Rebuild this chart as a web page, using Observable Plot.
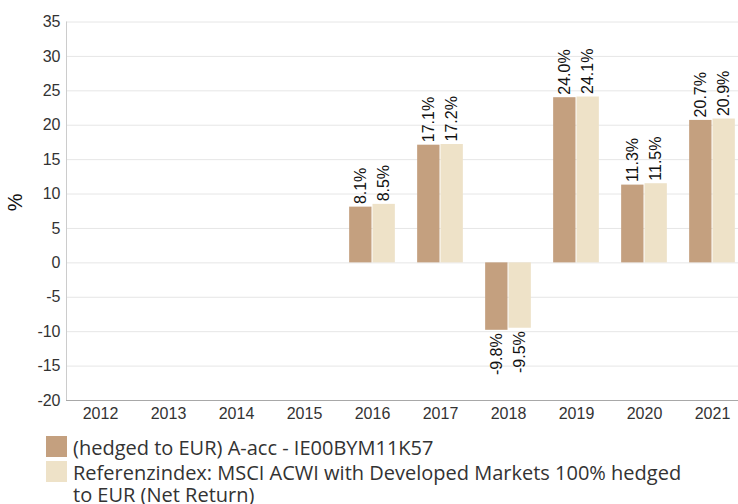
<!DOCTYPE html>
<html>
<head>
<meta charset="utf-8">
<script src="https://cdn.jsdelivr.net/npm/d3@7"></script>
<script src="https://cdn.jsdelivr.net/npm/@observablehq/plot@0.6"></script>
<style>
  html, body { margin: 0; padding: 0; background: #fff; }
  #chart { width: 738px; height: 422px; }
  #legend { margin: 15px 0 0 46px; font-family: "Open Sans", "Noto Sans", sans-serif; font-size: 20px; color: #333; line-height: 22px; }
  .item { display: flex; align-items: flex-start; margin-bottom: 3px; }
  .swatch { width: 21px; height: 21px; flex: none; margin-top: -1px; margin-right: 6px; }
  .label { width: 618px; }
</style>
</head>
<body>
<div id="chart"></div>
<div id="legend"></div>
<script>
const years = [2012, 2013, 2014, 2015, 2016, 2017, 2018, 2019, 2020, 2021];
const fundValues = [null, null, null, null, 8.1, 17.1, -9.8, 24.0, 11.3, 20.7];
const indexValues = [null, null, null, null, 8.5, 17.2, -9.5, 24.1, 11.5, 20.9];
const seriesNames = [
  "(hedged to EUR) A-acc - IE00BYM11K57",
  "Referenzindex: MSCI ACWI with Developed Markets 100% hedged to EUR (Net Return)"
];
const seriesColors = ["#c4a07f", "#eee2c8"];
const yTicks = [-20, -15, -10, -5, 0, 5, 10, 15, 20, 25, 30, 35];
const yLabel = "%";

const rows = years.flatMap((year, i) => [
  {year, series: 0, name: seriesNames[0], value: fundValues[i]},
  {year, series: 1, name: seriesNames[1], value: indexValues[i]}
]).filter(d => d.value != null);

const half = 0.3434; // bar width as a fraction of one year step
const xs1 = d => d.series === 0 ? d.year - half : d.year;
const xs2 = d => d.series === 0 ? d.year : d.year + half;
const xc = d => d.series === 0 ? d.year - half / 2 : d.year + half / 2;
const fmt = d => d.value.toFixed(1) + "%";
const FONT = "'Liberation Sans', Arial, sans-serif";

const chart = Plot.plot({
  width: 738,
  height: 422,
  marginLeft: 66,
  marginRight: 0,
  marginTop: 21.5,
  marginBottom: 22,
  style: `font-family: ${FONT}; font-size: 16px; color: #333; background: #fff;`,
  x: {type: "linear", domain: [years[0] - 0.5, years[years.length - 1] + 0.5], range: [66, 746]},
  y: {domain: [yTicks[0], yTicks[yTicks.length - 1]]},
  color: {domain: seriesNames, range: seriesColors},
  marks: [
    Plot.gridY(yTicks, {stroke: "#e6e6e6", strokeOpacity: 1}),
    Plot.ruleX([years[0] - 0.5], {stroke: "#cccccc"}),
    Plot.ruleY([yTicks[0]], {stroke: "#a8a8a8"}),
    Plot.rect(rows, {x1: xs1, x2: xs2, y1: 0, y2: "value", fill: "name", insetLeft: 0.5, insetRight: 0.5}),
    Plot.text(rows.filter(d => d.value >= 0), {x: xc, y: "value", text: fmt, rotate: -90, textAnchor: "start", lineAnchor: "middle", dy: -3, fontSize: 16, fontFamily: FONT, fill: "#111"}),
    Plot.text(rows.filter(d => d.value < 0), {x: xc, y: "value", text: fmt, rotate: -90, textAnchor: "end", lineAnchor: "middle", dy: 3, fontSize: 16, fontFamily: FONT, fill: "#111"}),
    Plot.axisX({ticks: years, tickFormat: d => String(d), tickSize: 0, tickPadding: 7, fontSize: 16, fontFamily: FONT, label: null, fill: "#333"}),
    Plot.axisY({ticks: yTicks, tickFormat: d => String(d), tickSize: 0, tickPadding: 6, fontSize: 16, fontFamily: FONT, label: null, fill: "#333"}),
    Plot.text([yLabel], {text: d => d, frameAnchor: "left", rotate: -90, dx: -51, lineAnchor: "middle", fontSize: 20, fontFamily: FONT, fill: "#111"})
  ]
});
document.getElementById("chart").appendChild(chart);

const legend = document.getElementById("legend");
seriesNames.forEach((name, i) => {
  const item = document.createElement("div");
  item.className = "item";
  const sw = document.createElement("span");
  sw.className = "swatch";
  sw.style.background = seriesColors[i];
  const lab = document.createElement("span");
  lab.className = "label";
  lab.textContent = name;
  item.appendChild(sw);
  item.appendChild(lab);
  legend.appendChild(item);
});
</script>
</body>
</html>
